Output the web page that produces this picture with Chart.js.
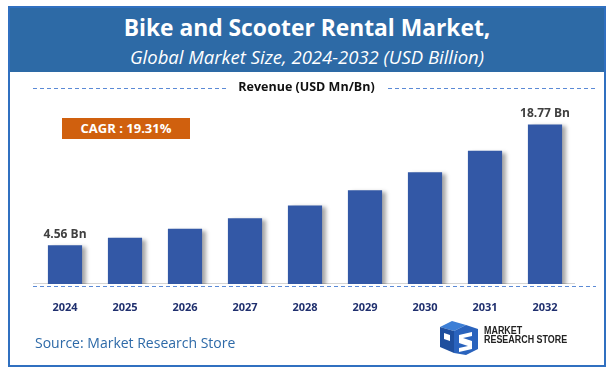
<!DOCTYPE html>
<html>
<head>
<meta charset="utf-8">
<script src="https://cdn.jsdelivr.net/npm/chart.js@4"></script>
<style>
  html, body { margin: 0; padding: 0; background: #fff; }
  body { width: 613px; height: 372px; position: relative; overflow: hidden; font-family: 'Open Sans', sans-serif; }
  #frame { position: absolute; left: 8px; top: 6px; width: 594px; height: 357px; border: 2px solid #3070c0; }
  #header { position: absolute; left: 0; top: 0; right: 0; height: 64px; background: #2d6aa6; color: #fff; text-align: center; }
  #title { position: absolute; left: 0; right: 0; top: 6px; font-weight: 700; font-size: 22.8px; line-height: 28px; }
  #subtitle { position: absolute; left: 0; right: 0; top: 37px; font-style: italic; font-size: 18.5px; line-height: 24px; }
  #revenue { position: absolute; left: 0; width: 613px; top: 78px; text-align: center; font-weight: 700; font-size: 12.5px; line-height: 18px; color: #111; }
  #cagr { position: absolute; left: 62px; top: 118px; width: 128px; height: 21px; background: #d0600e; color: #fff; font-weight: 700; font-size: 13px; line-height: 21px; text-align: center; }
  #source { position: absolute; left: 35px; top: 333px; font-size: 14px; line-height: 20px; color: #2e6aa8; }
  #logo { position: absolute; left: 438px; top: 319px; }
  #logoText { position: absolute; left: 484px; top: 326px; transform: scaleX(0.85); transform-origin: left top; font-family: 'Liberation Sans', sans-serif; font-weight: 700; font-size: 10.5px; line-height: 8.5px; color: #222; }
  canvas { position: absolute; left: 0; top: 0; }
</style>
</head>
<body>
<div id="frame"><div id="header"><div id="title">Bike and Scooter Rental Market,</div><div id="subtitle">Global Market Size, 2024-2032 (USD Billion)</div></div></div>
<canvas id="chart" width="613" height="372"></canvas>
<div id="revenue">Revenue (USD Mn/Bn)</div>
<div id="cagr">CAGR : 19.31%</div>
<div id="source">Source: Market Research Store</div>
<svg id="logo" width="42" height="36" viewBox="0 0 42 36">
  <polygon points="2,8 14,2 28,6 16,12" fill="#3d7fd6"/>
  <polygon points="2,8 16,12 16,34 2,28" fill="#1f4f9e"/>
  <polygon points="16,12 28,6 40,10 40,30 28,36 16,34" fill="#2a63bd"/>
  <polygon points="6,14 12,16 12,22 6,20" fill="#fff"/>
  <polygon points="21,16 34,13 34,17 25,19 34,22 34,30 21,33 21,29 30,27 21,24" fill="#fff"/>
</svg>
<div id="logoText">MARKET<br>RESEARCH STORE</div>
<script>
// ── Data ────────────────────────────────────────────────────────────────────
const years = ['2024', '2025', '2026', '2027', '2028', '2029', '2030', '2031', '2032'];
const revenue = [4.56, 5.44, 6.49, 7.74, 9.24, 11.02, 13.15, 15.69, 18.77];
const labelledBars = [0, 8];

// soft drop shadow behind the bars
const barShadow = {
    id: 'barShadow',
    beforeDatasetsDraw(chart) {
        const ctx = chart.ctx;
        ctx.save();
        ctx.shadowColor = 'rgba(0,0,0,0.35)';
        ctx.shadowOffsetX = 4;
        ctx.shadowOffsetY = 2;
        ctx.shadowBlur = 4;
    },
    afterDatasetsDraw(chart) {
        chart.ctx.restore();
    }
};

// baseline, dashed guides and the two value labels
const decorations = {
    id: 'decorations',
    beforeDraw(chart) {
        const ctx = chart.ctx;
        const area = chart.chartArea;
        const y0 = chart.scales.y.getPixelForValue(0);
        ctx.save();
        ctx.strokeStyle = '#5b8ad6';
        ctx.lineWidth = 1;
        ctx.setLineDash([4, 3]);
        ctx.beginPath();
        ctx.moveTo(33, 88.5); ctx.lineTo(228, 88.5);
        ctx.moveTo(388, 88.5); ctx.lineTo(596, 88.5);
        ctx.moveTo(area.left - 2, y0 + 2.5); ctx.lineTo(596, y0 + 2.5);
        ctx.stroke();
        ctx.setLineDash([]);
        ctx.strokeStyle = '#d4d4d4';
        ctx.beginPath();
        ctx.moveTo(area.left - 2, y0 - 0.5); ctx.lineTo(area.right, y0 - 0.5);
        ctx.stroke();
        ctx.restore();
    },
    afterDatasetsDraw(chart) {
        const ctx = chart.ctx;
        const meta = chart.getDatasetMeta(0);
        ctx.save();
        ctx.fillStyle = '#404040';
        ctx.font = "bold 12px 'Open Sans'";
        ctx.textAlign = 'center';
        ctx.textBaseline = 'bottom';
        labelledBars.forEach(i => {
            const bar = meta.data[i];
            ctx.fillText(revenue[i].toFixed(2) + ' Bn', bar.x, bar.y - 5);
        });
        ctx.restore();
    }
};

new Chart(document.getElementById('chart'), {
    type: 'bar',
    data: {
        labels: years,
        datasets: [{
            data: revenue,
            backgroundColor: '#3358a6',
            barPercentage: 0.57,
            categoryPercentage: 1
        }]
    },
    options: {
        responsive: false,
        animation: false,
        layout: { padding: { left: 35, right: 38, top: 114, bottom: 0 } },
        plugins: { legend: { display: false }, tooltip: { enabled: false } },
        scales: {
            y: { display: false, min: 0, max: 20 },
            x: {
                grid: { display: false },
                border: { display: false },
                ticks: { color: '#1f2f6e', padding: 9, font: { family: 'Open Sans', size: 11, weight: 'bold' } },
                afterFit: s => { s.height = 88; }
            }
        }
    },
    plugins: [barShadow, decorations]
});
</script>
</body>
</html>
